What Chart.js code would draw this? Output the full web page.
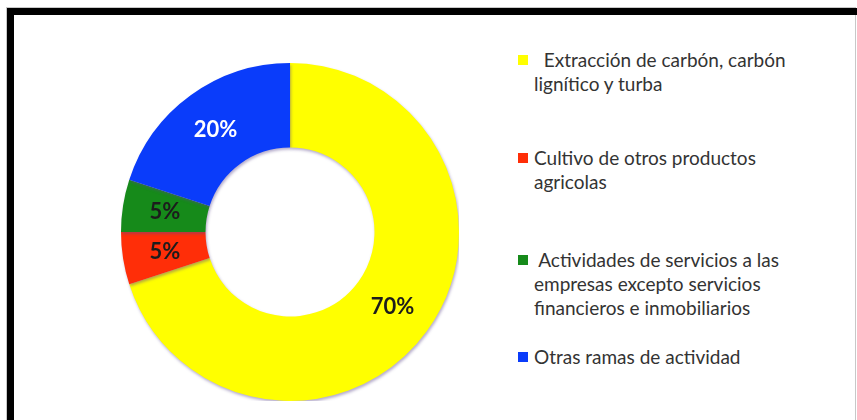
<!DOCTYPE html>
<html>
<head>
<meta charset="utf-8">
<script src="https://cdn.jsdelivr.net/npm/chart.js@4"></script>
<style>
  html, body { margin: 0; padding: 0; background: #fff; }
  body { width: 857px; height: 420px; position: relative; overflow: hidden; font-family: Lato, "Noto Sans", sans-serif; }
  #outline { position: absolute; left: 6px; top: 7px; width: 850px; height: 420px; border: 1px solid #c8c8c8; box-sizing: border-box; }
  #frame { position: absolute; left: 7px; top: 8px; width: 850px; height: 420px; border-left: 7px solid #000; border-top: 7px solid #000; box-sizing: border-box; }
  #wrap { position: absolute; left: 121px; top: 63px; width: 338px; height: 338px; }
  .item { position: absolute; left: 518px; font-size: 19px; line-height: 24px; color: #333; white-space: pre; }
  .sw { position: absolute; left: 0; top: 7px; width: 10px; height: 10px; }
  .txt { position: absolute; left: 16px; top: 0; }
</style>
</head>
<body>
<div id="outline"></div>
<div id="frame"></div>
<div id="wrap"><canvas id="c" width="338" height="338"></canvas></div>
<div id="legend"></div>
<script>
// ---- data ----
const categories = [
  ["\u00a0\u00a0Extracción de carbón, carbón", "lignítico y turba"],
  ["Cultivo de otros productos", "agricolas"],
  ["\u00a0Actividades de servicios a las", "empresas excepto servicios", "financieros e inmobiliarios"],
  ["Otras ramas de actividad"]
];
const shares = [70, 5, 5, 20];
const valueLabels = ["70%", "5%", "5%", "20%"];

// ---- styling (kept separate from data) ----
const colors = ["#FFFF00", "#FF2E08", "#168A1A", "#0A3CFA"];
const labelColors = ["#1c1c1c", "#1c1c1c", "#1c1c1c", "#ffffff"];
const legendTops = [48, 146, 248, 345];

// legend (HTML, built from the arrays)
const legend = document.getElementById('legend');
categories.forEach((lines, i) => {
  const it = document.createElement('div');
  it.className = 'item';
  it.style.top = legendTops[i] + 'px';
  const sw = document.createElement('div');
  sw.className = 'sw';
  sw.style.background = colors[i];
  const tx = document.createElement('div');
  tx.className = 'txt';
  tx.textContent = lines.join('\n');
  it.appendChild(sw); it.appendChild(tx);
  legend.appendChild(it);
});

const shadowPlugin = {
  id: 'shadow',
  beforeDatasetDraw(chart) {
    const ctx = chart.ctx;
    ctx.save();
    ctx.shadowColor = 'rgba(90,70,140,0.45)';
    ctx.shadowBlur = 3;
    ctx.shadowOffsetX = 1;
    ctx.shadowOffsetY = 2;
  },
  afterDatasetDraw(chart) { chart.ctx.restore(); }
};

const valueLabelPlugin = {
  id: 'valueLabels',
  afterDatasetsDraw(chart) {
    const ctx = chart.ctx;
    const meta = chart.getDatasetMeta(0);
    ctx.save();
    ctx.font = 'bold 22px Lato, "Noto Sans", sans-serif';
    ctx.textAlign = 'center';
    ctx.textBaseline = 'middle';
    meta.data.forEach((arc, i) => {
      const p = arc.tooltipPosition();
      ctx.fillStyle = labelColors[i];
      ctx.fillText(valueLabels[i], p.x, p.y);
    });
    ctx.restore();
  }
};

new Chart(document.getElementById('c'), {
  type: 'doughnut',
  data: {
    labels: categories,
    datasets: [{
      data: shares,
      backgroundColor: colors,
      borderWidth: 0,
      hoverOffset: 0
    }]
  },
  options: {
    responsive: false,
    animation: false,
    cutout: '50%',
    layout: { padding: 0 },
    plugins: { legend: { display: false }, tooltip: { enabled: false } }
  },
  plugins: [shadowPlugin, valueLabelPlugin]
});
</script>
</body>
</html>
